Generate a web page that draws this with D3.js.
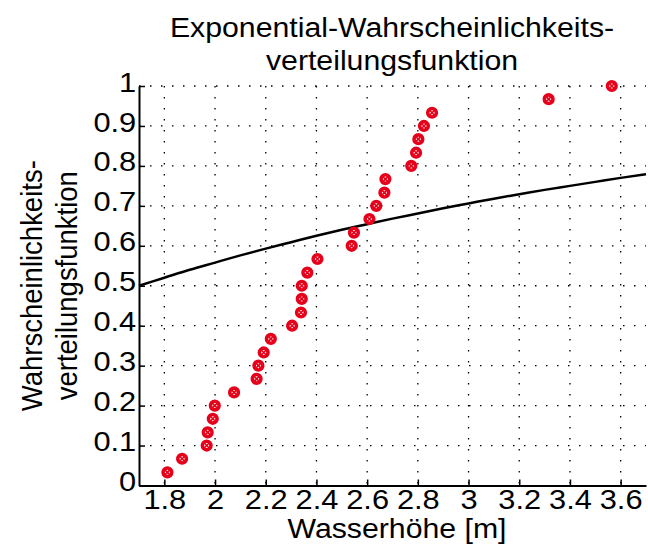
<!DOCTYPE html>
<html>
<head>
<meta charset="utf-8">
<script src="https://cdn.jsdelivr.net/npm/d3@7"></script>
<style>
  html, body { margin: 0; padding: 0; background: #fff; }
  svg { display: block; }
  text { font-family: "Liberation Sans", Arial, Helvetica, sans-serif; fill: #000; }
</style>
</head>
<body>
<svg id="chart" width="648" height="547"></svg>
<script>
// ---- data ----
const titleLines = ["Exponential-Wahrscheinlichkeits-", "verteilungsfunktion"];
const yLabelLines = ["Wahrscheinlichkeits-", "verteilungsfunktion"];
const xLabel = "Wasserhöhe [m]";

const xTicks = [1.8, 2.0, 2.2, 2.4, 2.6, 2.8, 3.0, 3.2, 3.4, 3.6];
const yTicks = [0, 0.1, 0.2, 0.3, 0.4, 0.5, 0.6, 0.7, 0.8, 0.9, 1];

// empirical points (water height, cumulative probability)
const heights = [1.812, 1.870, 1.967, 1.971, 1.991, 1.999, 2.075, 2.164, 2.171, 2.192,
                 2.220, 2.304, 2.339, 2.342, 2.342, 2.364, 2.404, 2.539, 2.548, 2.609,
                 2.636, 2.668, 2.672, 2.774, 2.793, 2.802, 2.824, 2.856, 3.316, 3.565];
const probabilities = [0.033, 0.067, 0.100, 0.133, 0.167, 0.200, 0.233, 0.267, 0.300, 0.333,
                       0.367, 0.400, 0.433, 0.467, 0.500, 0.533, 0.567, 0.600, 0.633, 0.667,
                       0.700, 0.733, 0.767, 0.800, 0.833, 0.867, 0.900, 0.933, 0.967, 1.000];

// fitted exponential CDF curve
const curveX = [1.7, 1.8, 1.9, 2.0, 2.1, 2.2, 2.3, 2.4, 2.5, 2.6, 2.7,
                2.8, 2.9, 3.0, 3.1, 3.2, 3.3, 3.4, 3.5, 3.6, 3.7];
const curveY = [0.500, 0.520, 0.540, 0.558, 0.576, 0.593, 0.609, 0.625, 0.640, 0.654, 0.668,
                0.681, 0.694, 0.706, 0.718, 0.729, 0.740, 0.750, 0.760, 0.770, 0.779];

// ---- drawing ----
const svg = d3.select("#chart");
svg.append("rect").attr("width", 648).attr("height", 547).attr("fill", "#fff");

const FONT = 28;
const SX = 1.1; // horizontal stretch of the reference lettering
const x = d3.scaleLinear().domain([1.7, 3.7]).range([139, 646]);
const y = d3.scaleLinear().domain([0, 1]).range([485.5, 86]);

// grid
const grid = svg.append("g").attr("stroke", "#000").attr("stroke-width", 1.3)
  .attr("stroke-dasharray", "1.5,9.5").attr("fill", "none");
grid.selectAll("line.v").data(xTicks).join("line").attr("class", "v")
  .attr("x1", d => x(d)).attr("x2", d => x(d))
  .attr("y1", y(1)).attr("y2", y(0));
grid.selectAll("line.h").data(yTicks.filter(d => d > 0)).join("line").attr("class", "h")
  .attr("x1", x(1.7)).attr("x2", x(3.7))
  .attr("y1", d => y(d)).attr("y2", d => y(d));

// axes
const fmt = d => String(+d.toFixed(1));
const xAxis = svg.append("g").attr("transform", `translate(0,${y(0)})`)
  .call(d3.axisBottom(x).tickValues(xTicks).tickFormat(fmt).tickSizeInner(-6).tickSizeOuter(0).tickPadding(4));
const yAxis = svg.append("g").attr("transform", `translate(${x(1.7)},0)`)
  .call(d3.axisLeft(y).tickValues(yTicks).tickFormat(fmt).tickSizeInner(-6).tickSizeOuter(0).tickPadding(2.5));
[xAxis, yAxis].forEach(g => {
  g.select(".domain").attr("stroke", "#000").attr("stroke-width", 2);
  g.selectAll(".tick line").attr("stroke", "#000").attr("stroke-width", 1.5);
  g.selectAll(".tick text").attr("font-size", FONT).attr("font-family", null)
    .style("font-family", '"Liberation Sans", Arial, sans-serif')
    .attr("transform", `scale(${SX},1)`);
});
yAxis.selectAll(".tick text").attr("dy", "0.18em");

// exponential curve
const line = d3.line().x(d => x(d[0])).y(d => y(d[1])).curve(d3.curveMonotoneX);
svg.append("path").datum(d3.zip(curveX, curveY))
  .attr("d", line).attr("fill", "none").attr("stroke", "#000").attr("stroke-width", 2.5);

// markers
const RED = "#e6001a";
const pts = svg.append("g").selectAll("g").data(d3.zip(heights, probabilities)).join("g")
  .attr("transform", d => `translate(${x(d[0])},${y(d[1])})`);
pts.append("circle").attr("r", 4.3).attr("fill", "#fff").attr("stroke", RED).attr("stroke-width", 3.6);
pts.append("path").attr("d", "M-3,-3L3,3M-3,3L3,-3").attr("stroke", RED).attr("stroke-width", 1.6);

// title
const title = svg.append("text").attr("text-anchor", "middle").attr("font-size", 27.5)
  .attr("transform", `translate(392,0) scale(${SX},1)`);
title.selectAll("tspan").data(titleLines).join("tspan")
  .attr("x", 0).attr("y", (d, i) => 37 + i * 33).text(d => d);

// x label
svg.append("text").attr("text-anchor", "middle").attr("font-size", 27.5)
  .attr("transform", `translate(397,538) scale(${SX},1)`).text(xLabel);

// y label
const yl = svg.append("text").attr("text-anchor", "middle").attr("font-size", 27.5)
  .attr("transform", `scale(${SX},1) translate(0,285.7) rotate(-90)`);
yl.selectAll("tspan").data(yLabelLines).join("tspan")
  .attr("x", 0).attr("y", (d, i) => (42 + i * 35) / SX).text(d => d);
</script>
</body>
</html>
